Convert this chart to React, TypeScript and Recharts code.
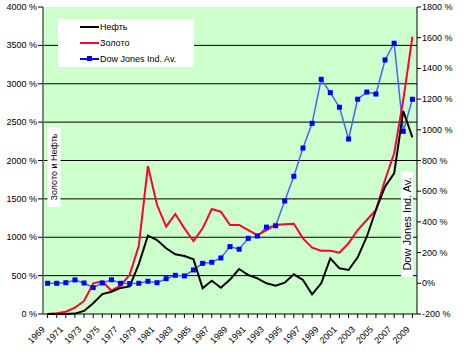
import { CartesianGrid, ComposedChart, Line, XAxis, YAxis } from "recharts";

const years = [
  1969, 1970, 1971, 1972, 1973, 1974, 1975, 1976, 1977, 1978, 1979, 1980, 1981, 1982,
  1983, 1984, 1985, 1986, 1987, 1988, 1989, 1990, 1991, 1992, 1993, 1994, 1995, 1996,
  1997, 1998, 1999, 2000, 2001, 2002, 2003, 2004, 2005, 2006, 2007, 2008, 2009,
];

// Нефть, % к 1969 (левая ось)
const oil = [
  0, 0, 0, 5, 40, 140, 260, 290, 340, 360, 650, 1020, 964, 856, 778, 756, 712, 335, 434, 343,
  448, 586, 508, 465, 400, 369, 408, 517, 443, 256, 400, 725, 595, 573, 738, 1007, 1355, 1659,
  1833, 2645, 2302,
];

// Золото, % к 1969 (левая ось)
const gold = [
  0, 9, 30, 83, 170, 400, 425, 304, 370, 510, 890, 1928, 1420, 1138, 1303, 1116, 951, 1116,
  1368, 1333, 1160, 1160, 1094, 1029, 1094, 1160, 1168, 1175, 986, 864, 825, 825, 799, 921,
  1094, 1225, 1355, 1746, 2094, 2788, 3613,
];

// Dow Jones Ind. Av., % к 1969 (правая ось)
const dow = [
  0, 0, 4, 22, 2, -28, 2, 23, 0, -2, 0, 13, 4, 30, 52, 48, 87, 130, 137, 165, 239, 222, 293,
  308, 366, 375, 536, 697, 881, 1042, 1329, 1242, 1147, 940, 1199, 1246, 1233, 1455, 1564, 990,
  1199,
];

const leftTicks = [0, 500, 1000, 1500, 2000, 2500, 3000, 3500, 4000];
const rightTicks = [-200, 0, 200, 400, 600, 800, 1000, 1200, 1400, 1600, 1800];
const gridValues = [500, 1000, 1500, 2000, 2500, 3000, 3500];

const data = years.map((year, i) => ({ year, oil: oil[i], gold: gold[i], dow: dow[i] }));

const FONT = "'Liberation Sans', Arial, sans-serif";
const GREEN = "#ccffcc";
const RED = "#ff0033";
const BLUE_LINE = "#4466ff";
const BLUE_DOT = "#0000ff";

function YearTick(props: any) {
  const { x, y, payload } = props;
  const yr = Number(payload.value);
  if ((yr - 1969) % 2 !== 0) return <g />;
  return (
    <g transform={`translate(${x - 2} ${y + 10}) rotate(-45)`}>
      <text x={0} y={0} textAnchor="end" fontSize={9} fontFamily={FONT} fill="#000">
        {yr}
      </text>
    </g>
  );
}

function ValueTick(props: any) {
  const { x, y, payload, side } = props;
  const v = Number(payload.value);
  const label = side === "right" && v === 0 ? "0%" : `${v}\u00a0%`;
  return (
    <text x={x} y={y} textAnchor={side === "left" ? "end" : "start"} dominantBaseline="central"
      fontSize={9} fontFamily={FONT} fill="#000">
      {label}
    </text>
  );
}

function AxisTitle({ viewBox, text, side, fontSize, boxW, boxH, dy }: any) {
  if (!viewBox) return null;
  const cx = side === "left" ? viewBox.x + viewBox.width + 11 : viewBox.x - 10;
  const cy = viewBox.y + dy;
  return (
    <g>
      <rect x={cx - boxW / 2} y={cy - boxH / 2} width={boxW} height={boxH} fill="#fff" />
      <text x={cx} y={cy} transform={`rotate(-90 ${cx} ${cy})`} textAnchor="middle" dominantBaseline="central"
        fontSize={fontSize} fontFamily={FONT} fill="#000">
        {text}
      </text>
    </g>
  );
}

function SquareDot({ cx, cy, index }: any) {
  if (cx == null || cy == null) return <g key={index} />;
  return <rect key={index} x={cx - 2.5} y={cy - 2.5} width={5} height={5} fill={BLUE_DOT} />;
}

function LegendBox() {
  const rows = [
    { label: "Нефть", color: "#000", dot: false },
    { label: "Золото", color: RED, dot: false },
    { label: "Dow Jones Ind. Av.", color: BLUE_DOT, dot: true },
  ];
  return (
    <div style={{ position: "absolute", left: 58, top: 19, width: 136, height: 48, background: "#fff", fontFamily: FONT, fontSize: 9 }}>
      {rows.map((r, i) => (
        <div key={r.label} style={{ position: "absolute", left: 22, top: 2 + i * 16, height: 12, display: "flex", alignItems: "center" }}>
          <span style={{ position: "relative", display: "inline-block", width: 19, height: r.dot ? 1.5 : 2, background: r.color }}>
            {r.dot && <span style={{ position: "absolute", left: 7, top: -2, width: 5, height: 5, background: BLUE_DOT }} />}
          </span>
          <span style={{ marginLeft: 1, color: "#000" }}>{r.label}</span>
        </div>
      ))}
    </div>
  );
}

export default function App() {
  return (
    <div style={{ position: "absolute", left: 0, top: 0, width: 464, height: 355, background: "#fff" }}>
      <ComposedChart width={464} height={355} data={data} margin={{ top: 7, right: 0, bottom: 0, left: 0 }}>
        <CartesianGrid yAxisId="left" vertical={false} horizontalValues={gridValues} stroke="#000" strokeWidth={1} fill={GREEN} />
        <XAxis dataKey="year" interval={0} height={41} padding={{ left: 4.6, right: 4.6 }}
          axisLine={{ stroke: "#000" }} tickLine={{ stroke: "#000" }} tickSize={4} tickMargin={2}
          tick={(p: any) => <YearTick {...p} />} />
        <YAxis yAxisId="left" domain={[0, 4000]} ticks={leftTicks} width={43} interval={0}
          axisLine={{ stroke: "#808080", strokeWidth: 2 }} tickLine={{ stroke: "#000" }} tickSize={5} tickMargin={1}
          tick={(p: any) => <ValueTick {...p} side="left" />}
          label={<AxisTitle text="Золото и Нефть" side="left" fontSize={9} boxW={13} boxH={80} dy={160} />} />
        <YAxis yAxisId="right" orientation="right" domain={[-200, 1800]} ticks={rightTicks} width={47} interval={0}
          axisLine={{ stroke: "#000" }} tickLine={{ stroke: "#000" }} tickSize={4} tickMargin={1}
          tick={(p: any) => <ValueTick {...p} side="right" />}
          label={<AxisTitle text="Dow Jones Ind. Av." side="right" fontSize={11} boxW={12} boxH={106} dy={217} />} />
        <Line yAxisId="right" dataKey="dow" stroke={BLUE_LINE} strokeWidth={1.5} dot={<SquareDot />} isAnimationActive={false} />
        <Line yAxisId="left" dataKey="gold" stroke={RED} strokeWidth={2} dot={false} isAnimationActive={false} />
        <Line yAxisId="left" dataKey="oil" stroke="#000" strokeWidth={2} dot={false} isAnimationActive={false} />
      </ComposedChart>
      <LegendBox />
    </div>
  );
}
